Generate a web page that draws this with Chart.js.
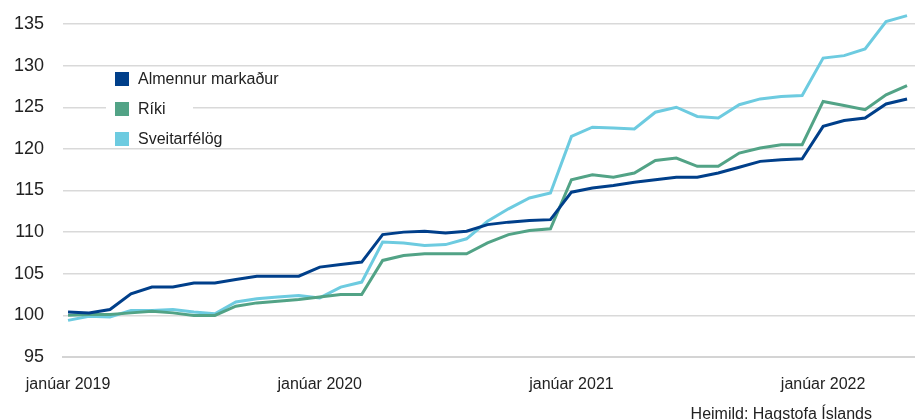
<!DOCTYPE html>
<html lang="is">
<head>
<meta charset="utf-8">
<script src="https://cdn.jsdelivr.net/npm/chart.js@4.4.1/dist/chart.umd.min.js"></script>
<style>
  body { margin: 0; background: #fff; font-family: "Liberation Sans", Arial, sans-serif; color: #222; }
  #wrap { position: relative; width: 915px; height: 420px; overflow: hidden; }
  #legend { position: absolute; left: 106px; top: 68px; width: 87px; height: 80px; background: #fff; }
  #legendRows { position: relative; top: -4px; left: 9px; }
  .item { display: flex; align-items: center; height: 30px; white-space: nowrap; font-size: 16px; }
  .box { width: 14px; height: 14px; margin-right: 9px; flex: none; }
  #source { position: absolute; right: 43px; top: 405px; font-size: 16px; }
</style>
</head>
<body>
<div id="wrap">
  <canvas id="lineChart" width="915" height="420"></canvas>
  <div id="legend"><div id="legendRows"></div></div>
  <div id="source">Heimild: Hagstofa Íslands</div>
</div>
<script>
// Mánuðir frá janúar 2019 til maí 2022
var monthNames = ["janúar", "febrúar", "mars", "apríl", "maí", "júní", "júlí", "ágúst", "september", "október", "nóvember", "desember"];
var months = [];
for (var y = 2019; y <= 2022; y++) {
    for (var m = 0; m < 12; m++) {
        if (y === 2022 && m > 4) break;
        months.push(monthNames[m] + " " + y);
    }
}

var almennur = [100.4, 100.3, 100.7, 102.6, 103.4, 103.4, 103.9, 103.9, 104.3, 104.7, 104.7, 104.7,
                105.8, 106.1, 106.4, 109.7, 110.0, 110.1, 109.9, 110.1, 110.9, 111.2, 111.4, 111.5,
                114.8, 115.3, 115.6, 116.0, 116.3, 116.6, 116.6, 117.1, 117.8, 118.5, 118.7, 118.8,
                122.7, 123.4, 123.7, 125.4, 126.0];
var riki = [100.0, 100.1, 100.1, 100.3, 100.5, 100.3, 100.0, 100.0, 101.1, 101.5, 101.7, 101.9,
            102.2, 102.5, 102.5, 106.6, 107.2, 107.4, 107.4, 107.4, 108.7, 109.7, 110.2, 110.4,
            116.3, 116.9, 116.6, 117.1, 118.6, 118.9, 117.9, 117.9, 119.5, 120.1, 120.5, 120.5,
            125.7, 125.2, 124.7, 126.5, 127.6];
var sveitarfelog = [99.4, 99.9, 99.8, 100.6, 100.6, 100.7, 100.4, 100.2, 101.6, 102.0, 102.2, 102.4,
                    102.1, 103.4, 104.0, 108.8, 108.7, 108.4, 108.5, 109.2, 111.3, 112.8, 114.1, 114.7,
                    121.5, 122.6, 122.5, 122.4, 124.4, 125.0, 123.9, 123.7, 125.3, 126.0, 126.3, 126.4,
                    130.9, 131.2, 132.0, 135.3, 136.0];

var yTicks = [95, 100, 105, 110, 115, 120, 125, 130, 135];

function toPoints(values) {
    return values.map(function(v, i) { return { x: i, y: v }; });
}

var series = [
    { label: "Almennur markaður", data: almennur, color: "#003f8a" },
    { label: "Ríki", data: riki, color: "#52a386" },
    { label: "Sveitarfélög", data: sveitarfelog, color: "#6dcbe0" }
];

var config = {
    type: 'line',
    data: {
        datasets: series.map(function(s) {
            return {
                label: s.label,
                data: toPoints(s.data),
                borderColor: s.color,
                backgroundColor: s.color,
                borderWidth: 3,
                pointRadius: 0,
                tension: 0,
                clip: false
            };
        })
    },
    options: {
        responsive: false,
        animation: false,
        layout: { padding: { top: 24, right: 0, bottom: 23, left: 0 } },
        plugins: { legend: { display: false }, tooltip: { enabled: false } },
        scales: {
            x: {
                type: 'linear',
                min: -0.24,
                max: 40.38,
                afterBuildTicks: function(scale) {
                    var t = [];
                    months.forEach(function(name, i) {
                        if (name.indexOf("janúar") === 0) t.push({ value: i });
                    });
                    scale.ticks = t;
                },
                afterFit: function(scale) { scale.height = 40; },
                grid: { display: false },
                border: { display: true, color: '#d4d4d4', width: 2 },
                ticks: {
                    autoSkip: false,
                    maxRotation: 0,
                    padding: 10,
                    color: '#222',
                    font: { family: '"Liberation Sans", Arial, sans-serif', size: 16 },
                    callback: function(value) { return months[value]; }
                }
            },
            y: {
                min: 95,
                max: 135,
                afterBuildTicks: function(scale) {
                    scale.ticks = yTicks.map(function(v) { return { value: v }; });
                },
                afterFit: function(scale) {
                    scale.width = 63;
                    scale.paddingTop = 10;
                    scale.paddingBottom = 10;
                },
                grid: { color: '#d9d9d9', lineWidth: 1.5, drawTicks: false },
                border: { display: false },
                ticks: {
                    padding: 19,
                    color: '#222',
                    font: { family: '"Liberation Sans", Arial, sans-serif', size: 18 }
                }
            }
        }
    }
};

var myChart = new Chart(document.getElementById('lineChart'), config);

// Skýringar teiknaðar út frá gagnaröðunum
var legend = document.getElementById('legendRows');
myChart.data.datasets.forEach(function(ds) {
    var item = document.createElement('div');
    item.className = 'item';
    var box = document.createElement('span');
    box.className = 'box';
    box.style.background = ds.borderColor;
    var txt = document.createElement('span');
    txt.textContent = ds.label;
    item.appendChild(box);
    item.appendChild(txt);
    legend.appendChild(item);
});
</script>
</body>
</html>
